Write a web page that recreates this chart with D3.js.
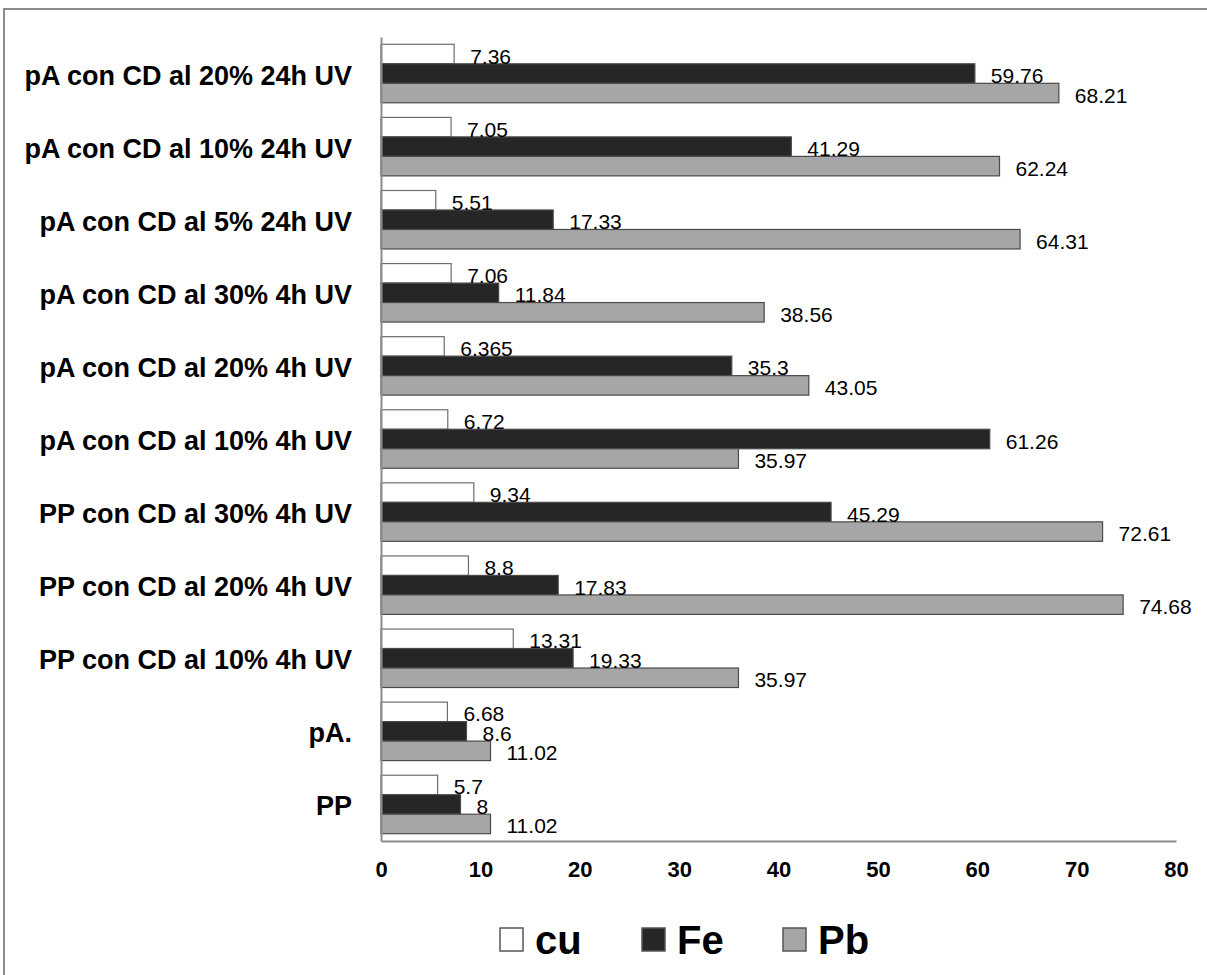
<!DOCTYPE html>
<html>
<head>
<meta charset="utf-8">
<script src="https://cdn.jsdelivr.net/npm/d3@7"></script>
<style>
  html, body { margin: 0; padding: 0; background: #fff; }
  svg { display: block; }
  text { font-family: "Liberation Sans", Arial, sans-serif; fill: #000; }
</style>
</head>
<body>
<svg id="chart" width="1207" height="975"></svg>
<script>
const categories = [
  "pA con CD al 20% 24h UV",
  "pA con CD al 10% 24h UV",
  "pA con CD al 5% 24h UV",
  "pA con CD al 30% 4h UV",
  "pA con CD al 20% 4h UV",
  "pA con CD al 10% 4h UV",
  "PP con CD al 30% 4h UV",
  "PP con CD al 20% 4h UV",
  "PP con CD al 10% 4h UV",
  "pA.",
  "PP"
];
const seriesNames = ["cu", "Fe", "Pb"];
const cuValues = [7.36, 7.05, 5.51, 7.06, 6.365, 6.72, 9.34, 8.8, 13.31, 6.68, 5.7];
const feValues = [59.76, 41.29, 17.33, 11.84, 35.3, 61.26, 45.29, 17.83, 19.33, 8.6, 8];
const pbValues = [68.21, 62.24, 64.31, 38.56, 43.05, 35.97, 72.61, 74.68, 35.97, 11.02, 11.02];
const xTicks = [0, 10, 20, 30, 40, 50, 60, 70, 80];
const seriesColors = ["#ffffff", "#262626", "#a6a6a6"];

const seriesValues = [cuValues, feValues, pbValues];
const svg = d3.select("#chart");

// outer border (top and left visible)
svg.append("rect")
  .attr("x", 4).attr("y", 9)
  .attr("width", 1260).attr("height", 1020)
  .attr("fill", "none").attr("stroke", "#8c8c8c").attr("stroke-width", 2);

const x = d3.scaleLinear().domain([0, 80]).range([381, 1176]);
const y = d3.scaleBand().domain(categories).range([37, 841]).paddingInner(0.2).paddingOuter(0.1);
const ys = d3.scaleBand().domain(seriesNames).range([0, y.bandwidth()]);
const color = d3.scaleOrdinal().domain(seriesNames).range(seriesColors);

const rows = [];
categories.forEach((c, i) => {
  seriesNames.forEach((s, j) => rows.push({ cat: c, series: s, value: seriesValues[j][i] }));
});

// bars
svg.append("g").selectAll("rect").data(rows).join("rect")
  .attr("x", x(0))
  .attr("y", d => y(d.cat) + ys(d.series))
  .attr("width", d => x(d.value) - x(0))
  .attr("height", ys.bandwidth())
  .attr("fill", d => color(d.series))
  .attr("stroke", d => d.series === "cu" ? "#6e6e6e" : "#4a4a4a")
  .attr("stroke-width", 1.2);

// value labels
svg.append("g").selectAll("text").data(rows).join("text")
  .attr("x", d => x(d.value) + 16)
  .attr("y", d => y(d.cat) + ys(d.series) + ys.bandwidth() / 2 + 2)
  .attr("dominant-baseline", "central")
  .style("font-size", "21px")
  .text(d => d.value);

// axes
const xAxis = d3.axisBottom(x).tickValues(xTicks).tickSize(0).tickPadding(20);
const gx = svg.append("g").attr("transform", `translate(0,841)`).call(xAxis);
gx.select(".domain").attr("stroke", "#8c8c8c").attr("stroke-width", 2);
gx.selectAll("text").style("font-size", "22px").style("font-weight", "bold")
  .attr("font-family", null);

const yAxis = d3.axisLeft(y).tickSize(0).tickPadding(29);
const gy = svg.append("g").attr("transform", `translate(381,0)`).call(yAxis);
gy.select(".domain").attr("stroke", "#8c8c8c").attr("stroke-width", 2);
gy.selectAll("text").style("font-size", "27px").style("font-weight", "bold")
  .attr("dy", null).attr("dominant-baseline", "central")
  .attr("transform", "translate(0,2)")
  .attr("font-family", null);

// legend
const legendX = [500, 642, 783];
const lg = svg.append("g").selectAll("g").data(seriesNames).join("g")
  .attr("transform", (d, i) => `translate(${legendX[i]},928)`);
lg.append("rect").attr("width", 23).attr("height", 23)
  .attr("fill", d => color(d)).attr("stroke", "#555").attr("stroke-width", 1.5);
lg.append("text").attr("x", 35).attr("y", 12)
  .attr("dominant-baseline", "central")
  .style("font-size", "40px").style("font-weight", "bold")
  .text(d => d);
</script>
</body>
</html>
